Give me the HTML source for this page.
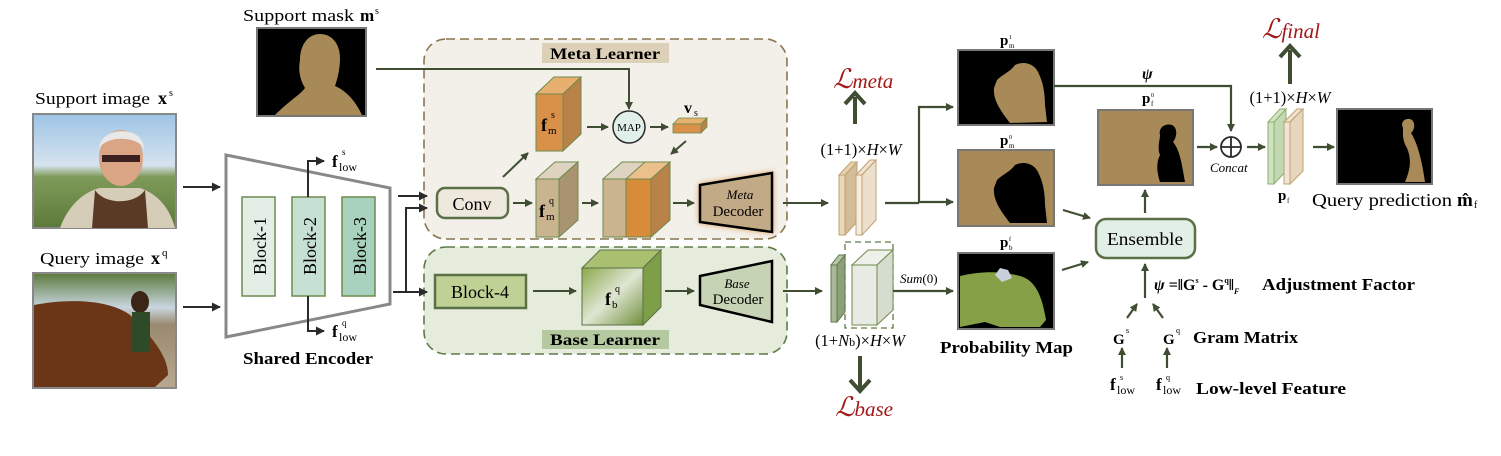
<!DOCTYPE html>
<html><head><meta charset="utf-8"><style>
html,body{margin:0;padding:0;background:#fff;}
svg{display:block;}
text{font-family:"Liberation Serif",serif;}
.b{font-weight:bold;}
.i{font-style:italic;}
</style></head><body>
<svg width="1501" height="456" viewBox="0 0 1501 456" xmlns="http://www.w3.org/2000/svg">
<defs>
<marker id="a" markerWidth="8" markerHeight="8" refX="7" refY="4" orient="auto" markerUnits="userSpaceOnUse"><path d="M0,0 L8,4 L0,8 z" fill="#3f4e33"/></marker>
<marker id="k" markerWidth="9" markerHeight="9" refX="8" refY="4.5" orient="auto" markerUnits="userSpaceOnUse"><path d="M0,0 L9,4.5 L0,9 z" fill="#2a2a2a"/></marker>
<linearGradient id="gb" x1="0" y1="0" x2="1" y2="1"><stop offset="0" stop-color="#8aa84a"/><stop offset="0.5" stop-color="#dfe6d3"/><stop offset="1" stop-color="#6f8f3a"/></linearGradient>
<linearGradient id="sky" x1="0" y1="0" x2="0" y2="1"><stop offset="0" stop-color="#9ec4e6"/><stop offset="0.45" stop-color="#d6e3ee"/><stop offset="0.55" stop-color="#7f9b5a"/><stop offset="1" stop-color="#5e7a3a"/></linearGradient>
<linearGradient id="qsky" x1="0" y1="0" x2="0" y2="1"><stop offset="0" stop-color="#5b7a3a"/><stop offset="0.3" stop-color="#c9d6e0"/><stop offset="0.45" stop-color="#9a8a70"/><stop offset="1" stop-color="#b8a890"/></linearGradient>
</defs>

<text x="243" y="21" font-size="17" textLength="111" lengthAdjust="spacingAndGlyphs">Support mask</text><text x="360" y="21" font-size="17" class="b">m</text><text x="375" y="14" font-size="10">s</text>
<rect x="257" y="28" width="109" height="88" fill="#000" stroke="#777" stroke-width="2"/>
<path d="M275,115 C290,100 300,95 305,88 C300,80 298,70 300,60 C300,45 308,34 320,34 C332,34 340,44 340,58 C340,70 337,80 335,86 C345,90 355,100 362,115 Z" fill="#a88a58"/>

<text x="35" y="104" font-size="17" textLength="115" lengthAdjust="spacingAndGlyphs">Support image</text><text x="158" y="104" font-size="18" class="b">x</text><text x="169" y="96" font-size="10">s</text>
<rect x="33" y="114" width="143" height="114" fill="url(#sky)" stroke="#888" stroke-width="2"/>
<path d="M60,228 C70,200 90,190 100,188 L140,188 C160,195 170,210 175,228 Z" fill="#d5cdb8"/>
<ellipse cx="121" cy="158" rx="22" ry="28" fill="#d9a584"/>
<path d="M99,150 C98,126 145,124 144,150 C140,135 103,135 99,150 Z" fill="#e8e8e8"/>
<rect x="102" y="155" width="38" height="7" fill="#3a2020"/>
<path d="M95,190 C105,205 135,205 145,190 L148,228 L92,228 Z" fill="#5a3a25"/>

<text x="40" y="264" font-size="17" textLength="104" lengthAdjust="spacingAndGlyphs">Query image</text><text x="151" y="264" font-size="18" class="b">x</text><text x="162" y="256" font-size="11">q</text>
<rect x="33" y="273" width="143" height="115" fill="url(#qsky)" stroke="#888" stroke-width="2"/>
<path d="M34,305 C70,298 110,300 130,315 C150,335 168,355 168,375 L155,387 L34,387 Z" fill="#6b3518"/>
<ellipse cx="140" cy="302" rx="9" ry="11" fill="#3a2516"/>
<rect x="132" y="312" width="18" height="40" fill="#2e4a28"/>

<line x1="183" y1="187" x2="220" y2="187" stroke="#2a2a2a" stroke-width="2" marker-end="url(#k)"/>
<line x1="183" y1="307" x2="220" y2="307" stroke="#2a2a2a" stroke-width="2" marker-end="url(#k)"/>

<polygon points="226,155 390,188 390,304 226,337" fill="#fff" stroke="#888" stroke-width="3"/>
<rect x="242" y="197" width="33" height="99" fill="#e3efe6" stroke="#6e8a4e" stroke-width="1.5"/>
<rect x="292" y="197" width="33" height="99" fill="#c6e0d3" stroke="#6e8a4e" stroke-width="1.5"/>
<rect x="342" y="197" width="33" height="99" fill="#a8d2bd" stroke="#6e8a4e" stroke-width="1.5"/>
<text transform="translate(266,246) rotate(-90)" text-anchor="middle" font-size="18" textLength="58" lengthAdjust="spacingAndGlyphs">Block-1</text>
<text transform="translate(316,246) rotate(-90)" text-anchor="middle" font-size="18" textLength="58" lengthAdjust="spacingAndGlyphs">Block-2</text>
<text transform="translate(366,246) rotate(-90)" text-anchor="middle" font-size="18" textLength="58" lengthAdjust="spacingAndGlyphs">Block-3</text>
<polyline points="308,197 308,161 324,161" fill="none" stroke="#2a2a2a" stroke-width="2" marker-end="url(#k)"/>
<polyline points="308,296 308,331 324,331" fill="none" stroke="#2a2a2a" stroke-width="2" marker-end="url(#k)"/>
<text x="332" y="167" font-size="17" class="b">f</text><text x="339" y="171" font-size="12">low</text><text x="342" y="155" font-size="9">s</text>
<text x="332" y="337" font-size="17" class="b">f</text><text x="339" y="341" font-size="12">low</text><text x="342" y="326" font-size="9">q</text>
<text x="243" y="364" font-size="17" class="b" textLength="130" lengthAdjust="spacingAndGlyphs">Shared Encoder</text>

<rect x="424" y="39" width="363" height="200" rx="22" fill="#f3f0ea" stroke="#8a7650" stroke-width="1.6" stroke-dasharray="9,5"/>
<rect x="424" y="247" width="363" height="107" rx="22" fill="#e6ecdb" stroke="#5f7a48" stroke-width="1.6" stroke-dasharray="9,5"/>
<rect x="542" y="43" width="127" height="20" fill="#ddd0b8"/>
<text x="605" y="59" text-anchor="middle" font-size="16" class="b" textLength="110" lengthAdjust="spacingAndGlyphs">Meta Learner</text>
<rect x="542" y="330" width="127" height="19" fill="#b5c9a0"/>
<text x="605" y="345" text-anchor="middle" font-size="16" class="b" textLength="110" lengthAdjust="spacingAndGlyphs">Base Learner</text>

<line x1="398" y1="196" x2="427" y2="196" stroke="#2a2a2a" stroke-width="2" marker-end="url(#k)"/>
<line x1="393" y1="292" x2="427" y2="292" stroke="#2a2a2a" stroke-width="2" marker-end="url(#k)"/>
<polyline points="406,292 406,208 427,208" fill="none" stroke="#2a2a2a" stroke-width="2" marker-end="url(#k)"/>

<polyline points="376,69 629,69 629,109" fill="none" stroke="#3f4e33" stroke-width="2" marker-end="url(#a)"/>

<rect x="437" y="188" width="71" height="30" rx="8" fill="#eee8dd" stroke="#5c7048" stroke-width="2.5"/>
<text x="472" y="210" text-anchor="middle" font-size="18">Conv</text>
<line x1="503" y1="177" x2="528" y2="153" stroke="#3f4e33" stroke-width="2" marker-end="url(#a)"/>
<line x1="513" y1="203" x2="532" y2="203" stroke="#3f4e33" stroke-width="2" marker-end="url(#a)"/>

<polygon points="536,94 554,77 581,77 563,94" fill="#e8b06e" stroke="#6e8a4e" stroke-width="1"/>
<polygon points="563,94 581,77 581,134 563,151" fill="#b98248" stroke="#6e8a4e" stroke-width="1"/>
<rect x="536" y="94" width="27" height="57" fill="#d9914a" stroke="#6e8a4e" stroke-width="1"/>
<text x="541" y="131" font-size="18" class="b">f</text><text x="548" y="134" font-size="11">m</text><text x="551" y="118" font-size="10">s</text>
<line x1="587" y1="127" x2="608" y2="127" stroke="#3f4e33" stroke-width="2" marker-end="url(#a)"/>
<circle cx="629" cy="127" r="16" fill="#e0efe9" stroke="#2a2a2a" stroke-width="1.5"/>
<text x="629" y="131" text-anchor="middle" font-size="11">MAP</text>
<line x1="650" y1="127" x2="668" y2="127" stroke="#3f4e33" stroke-width="2" marker-end="url(#a)"/>
<polygon points="673,124 679,118 707,118 701,124" fill="#e8b06e" stroke="#6e8a4e" stroke-width="0.8"/>
<polygon points="701,124 707,118 707,127 701,133" fill="#b98248" stroke="#6e8a4e" stroke-width="0.8"/>
<rect x="673" y="124" width="28" height="9" fill="#d9914a" stroke="#6e8a4e" stroke-width="0.8"/>
<text x="684" y="113" font-size="16" class="b">v</text><text x="694" y="116" font-size="10">s</text>
<line x1="686" y1="141" x2="671" y2="154" stroke="#3f4e33" stroke-width="2" marker-end="url(#a)"/>

<polygon points="536,179 555,162 578,162 559,179" fill="#ddd3c0" stroke="#6e8a4e" stroke-width="1"/>
<polygon points="559,179 578,162 578,220 559,237" fill="#a89470" stroke="#6e8a4e" stroke-width="1"/>
<rect x="536" y="179" width="23" height="58" fill="#c9b48f" stroke="#6e8a4e" stroke-width="1"/>
<text x="539" y="217" font-size="18" class="b">f</text><text x="546" y="220" font-size="11">m</text><text x="549" y="204" font-size="10">q</text>
<line x1="582" y1="203" x2="598" y2="203" stroke="#3f4e33" stroke-width="2" marker-end="url(#a)"/>

<polygon points="603,179 622,162 650,162 631,179" fill="#ddd3c0" stroke="#6e8a4e" stroke-width="1"/>
<rect x="603" y="179" width="23" height="58" fill="#c9b48f" stroke="#6e8a4e" stroke-width="1"/>
<polygon points="626,179 645,162 670,162 651,179" fill="#ecc08a" stroke="#6e8a4e" stroke-width="1"/>
<polygon points="651,179 670,162 670,220 651,237" fill="#b98248" stroke="#6e8a4e" stroke-width="1"/>
<rect x="626" y="179" width="25" height="58" fill="#d88c3a" stroke="#6e8a4e" stroke-width="1"/>
<line x1="673" y1="203" x2="694" y2="203" stroke="#3f4e33" stroke-width="2" marker-end="url(#a)"/>

<polygon points="700,185 772,173 772,232 700,222" fill="#c2aa86" stroke="#000" stroke-width="2.5" style="filter:drop-shadow(0 0 3px #e0a060)"/>
<text x="740" y="199" text-anchor="middle" font-size="13" class="i">Meta</text>
<text x="738" y="216" text-anchor="middle" font-size="15">Decoder</text>
<line x1="783" y1="203" x2="828" y2="203" stroke="#3f4e33" stroke-width="2" marker-end="url(#a)"/>

<rect x="435" y="275" width="91" height="33" fill="#bfd195" stroke="#5c7048" stroke-width="2.5"/>
<text x="480" y="298" text-anchor="middle" font-size="18">Block-4</text>
<line x1="533" y1="291" x2="576" y2="291" stroke="#3f4e33" stroke-width="2" marker-end="url(#a)"/>
<polygon points="582,268 600,250 661,250 643,268" fill="#a8c070" stroke="#5c7048" stroke-width="1"/>
<polygon points="643,268 661,250 661,307 643,325" fill="#7f9e48" stroke="#5c7048" stroke-width="1"/>
<rect x="582" y="268" width="61" height="57" fill="url(#gb)" stroke="#5c7048" stroke-width="1"/>
<text x="605" y="305" font-size="18" class="b">f</text><text x="612" y="308" font-size="11">b</text><text x="615" y="292" font-size="10">q</text>
<line x1="665" y1="291" x2="694" y2="291" stroke="#3f4e33" stroke-width="2" marker-end="url(#a)"/>
<polygon points="700,276 772,261 772,322 700,305" fill="#c7d3b5" stroke="#000" stroke-width="2.5"/>
<text x="737" y="288" text-anchor="middle" font-size="13" class="i">Base</text>
<text x="738" y="304" text-anchor="middle" font-size="15">Decoder</text>
<line x1="783" y1="291" x2="822" y2="291" stroke="#3f4e33" stroke-width="2" marker-end="url(#a)"/>

<polygon points="839,175 845,175 857,162 851,162" fill="#e6d2b0" stroke="#c0a070" stroke-width="1"/>
<polygon points="845,175 857,162 857,222 845,235" fill="#d3bd98" stroke="#c0a070" stroke-width="1"/>
<rect x="839" y="175" width="6" height="60" fill="#e9d8bc" stroke="#c0a070" stroke-width="1"/>
<polygon points="856,175 862,175 876,160 870,160" fill="#efe3cf" stroke="#c0a070" stroke-width="1"/>
<polygon points="862,175 876,160 876,220 862,235" fill="#ece0cd" stroke="#c0a070" stroke-width="1"/>
<rect x="856" y="175" width="6" height="60" fill="#f5ede0" stroke="#c0a070" stroke-width="1"/>
<text x="861" y="155" text-anchor="middle" font-size="16.5">(1+1)×<tspan class="i">H</tspan>×<tspan class="i">W</tspan></text>
<line x1="855" y1="124" x2="855" y2="97" stroke="#3f4e33" stroke-width="4"/>
<path d="M845,104 L855,93 L865,104" fill="none" stroke="#3f4e33" stroke-width="4"/>
<text x="833" y="88" font-size="27" fill="#a01818" class="i">ℒ<tspan font-size="21">meta</tspan></text>

<rect x="845" y="242" width="48" height="86" fill="none" stroke="#5f7a48" stroke-width="1.3" stroke-dasharray="6,4"/>
<polygon points="831,265 837,265 845,255 839,255" fill="#b5c4a5" stroke="#5f7a48" stroke-width="1"/>
<polygon points="837,265 845,255 845,312 837,322" fill="#8ea07a" stroke="#5f7a48" stroke-width="1"/>
<rect x="831" y="265" width="6" height="57" fill="#a8b898" stroke="#5f7a48" stroke-width="1"/>
<polygon points="852,265 877,265 893,250 868,250" fill="#eef0ea" stroke="#6e8a4e" stroke-width="1"/>
<polygon points="877,265 893,250 893,310 877,325" fill="#d6ddd0" stroke="#6e8a4e" stroke-width="1"/>
<rect x="852" y="265" width="25" height="60" fill="#e8ebe4" stroke="#6e8a4e" stroke-width="1"/>
<text x="860" y="346" text-anchor="middle" font-size="16.5">(1+<tspan class="i">N</tspan><tspan font-size="12">b</tspan>)×<tspan class="i">H</tspan>×<tspan class="i">W</tspan></text>
<line x1="860" y1="356" x2="860" y2="388" stroke="#3f4e33" stroke-width="4"/>
<path d="M850,380 L860,391 L870,380" fill="none" stroke="#3f4e33" stroke-width="4"/>
<text x="835" y="416" font-size="27" fill="#a01818" class="i">ℒ<tspan font-size="21">base</tspan></text>

<line x1="885" y1="203" x2="919" y2="203" stroke="#3f4e33" stroke-width="2.2"/>
<polyline points="919,203 919,107 953,107" fill="none" stroke="#3f4e33" stroke-width="2.2" marker-end="url(#a)"/>
<line x1="919" y1="202" x2="953" y2="202" stroke="#3f4e33" stroke-width="2.2" marker-end="url(#a)"/>
<line x1="893" y1="291" x2="953" y2="291" stroke="#3f4e33" stroke-width="2.2" marker-end="url(#a)"/>
<text x="900" y="283" font-size="13" class="i">Sum<tspan font-style="normal">(0)</tspan></text>

<text x="1000" y="45" font-size="15" class="b">p</text><text x="1009" y="48" font-size="7">m</text><text x="1009" y="39" font-size="6">1</text>
<rect x="958" y="50" width="96" height="75" fill="#000" stroke="#777" stroke-width="2"/>
<path d="M997,80 C1003,74 1010,72 1015,65 C1025,60 1035,65 1038,72 C1042,80 1045,90 1045,105 L1047,122 L1010,123 C1000,110 993,100 994,88 Z" fill="#a88a58"/>
<text x="1000" y="145" font-size="15" class="b">p</text><text x="1009" y="148" font-size="7">m</text><text x="1009" y="139" font-size="6">0</text>
<rect x="958" y="150" width="96" height="76" fill="#a88a58" stroke="#777" stroke-width="2"/>
<path d="M997,180 C1003,174 1010,172 1015,165 C1025,160 1035,165 1038,172 C1042,180 1045,190 1045,205 L1047,223 L1010,223 C1000,210 993,200 994,188 Z" fill="#000"/>
<text x="1000" y="247" font-size="15" class="b">p</text><text x="1009" y="250" font-size="7">b</text><text x="1009" y="241" font-size="6">f</text>
<rect x="958" y="253" width="96" height="76" fill="#000" stroke="#777" stroke-width="2"/>
<path d="M960,276 C985,270 1005,272 1020,276 C1035,280 1042,295 1046,320 L1040,327 L1000,327 L985,322 L960,327 Z" fill="#86a048"/>
<path d="M995,275 L1000,268 L1008,270 L1012,278 L1002,282 Z" fill="#c8d0dc"/>
<text x="940" y="353" font-size="17" class="b" textLength="133" lengthAdjust="spacingAndGlyphs">Probability Map</text>

<polyline points="1054,86 1231,86 1231,131" fill="none" stroke="#3f4e33" stroke-width="2.2" marker-end="url(#a)"/>
<text x="1142" y="79" font-size="16" class="b i">ψ</text>
<text x="1142" y="103" font-size="15" class="b">p</text><text x="1151" y="106" font-size="7">f</text><text x="1151" y="97" font-size="6">0</text>
<rect x="1098" y="110" width="95" height="75" fill="#a88a58" stroke="#777" stroke-width="2"/>
<path d="M1160,135 C1158,128 1165,123 1172,125 C1178,128 1177,137 1173,142 C1180,150 1182,165 1185,182 L1160,182 C1158,175 1155,165 1160,155 C1157,148 1160,140 1160,135 Z" fill="#000"/>
<line x1="1197" y1="147" x2="1217" y2="147" stroke="#3f4e33" stroke-width="2.2" marker-end="url(#a)"/>
<circle cx="1231" cy="147" r="10" fill="#fff" stroke="#2a2a2a" stroke-width="1.8"/>
<line x1="1221" y1="147" x2="1241" y2="147" stroke="#2a2a2a" stroke-width="1.8"/>
<line x1="1231" y1="137" x2="1231" y2="157" stroke="#2a2a2a" stroke-width="1.8"/>
<text x="1210" y="172" font-size="13" class="i">Concat</text>
<line x1="1247" y1="147" x2="1265" y2="147" stroke="#3f4e33" stroke-width="2.2" marker-end="url(#a)"/>

<polygon points="1268,122 1274,122 1286,109 1280,109" fill="#d6e4c6" stroke="#8ab070" stroke-width="1"/>
<polygon points="1274,122 1286,109 1286,171 1274,184" fill="#c2d8b0" stroke="#8ab070" stroke-width="1"/>
<rect x="1268" y="122" width="6" height="62" fill="#d0e2c0" stroke="#8ab070" stroke-width="1"/>
<polygon points="1284,122 1290,122 1303,109 1297,109" fill="#efe3cf" stroke="#c0a070" stroke-width="1"/>
<polygon points="1290,122 1303,109 1303,171 1290,184" fill="#e6d6be" stroke="#c0a070" stroke-width="1"/>
<rect x="1284" y="122" width="6" height="62" fill="#f0e6d6" stroke="#c0a070" stroke-width="1"/>
<text x="1278" y="200" font-size="15" class="b">p</text><text x="1287" y="203" font-size="7">f</text>
<text x="1290" y="103" text-anchor="middle" font-size="16.5">(1+1)×<tspan class="i">H</tspan>×<tspan class="i">W</tspan></text>
<line x1="1290" y1="84" x2="1290" y2="50" stroke="#3f4e33" stroke-width="4"/>
<path d="M1280,57 L1290,46 L1300,57" fill="none" stroke="#3f4e33" stroke-width="4"/>
<text x="1262" y="38" font-size="27" fill="#a01818" class="i">ℒ<tspan font-size="21">final</tspan></text>
<line x1="1313" y1="147" x2="1334" y2="147" stroke="#3f4e33" stroke-width="2.2" marker-end="url(#a)"/>
<rect x="1337" y="109" width="95" height="75" fill="#000" stroke="#777" stroke-width="2"/>
<path d="M1403,128 C1400,122 1405,118 1410,119 C1416,121 1415,130 1411,133 C1417,142 1422,160 1425,182 L1405,182 C1410,170 1412,160 1407,148 C1402,140 1403,133 1403,128 Z" fill="#a88a58"/>
<text x="1312" y="206" font-size="18" textLength="140" lengthAdjust="spacingAndGlyphs">Query prediction</text><text x="1457" y="206" font-size="19" class="b">m̂</text><text x="1474" y="208" font-size="10">f</text>

<line x1="1063" y1="210" x2="1090" y2="218" stroke="#3f4e33" stroke-width="2.2" marker-end="url(#a)"/>
<line x1="1062" y1="270" x2="1088" y2="262" stroke="#3f4e33" stroke-width="2.2" marker-end="url(#a)"/>
<rect x="1096" y="219" width="99" height="39" rx="10" fill="#e1efe6" stroke="#5c7048" stroke-width="2.5"/>
<text x="1145" y="245" text-anchor="middle" font-size="18" textLength="76" lengthAdjust="spacingAndGlyphs">Ensemble</text>
<line x1="1145" y1="213" x2="1145" y2="190" stroke="#3f4e33" stroke-width="2.2" marker-end="url(#a)"/>
<line x1="1145" y1="298" x2="1145" y2="264" stroke="#3f4e33" stroke-width="2.2" marker-end="url(#a)"/>
<text x="1154" y="290" font-size="16" class="b"><tspan class="i">ψ</tspan> =‖G<tspan font-size="8" dy="-7">s</tspan><tspan dy="7"> - G</tspan><tspan font-size="8" dy="-7">q</tspan><tspan dy="7">‖</tspan><tspan font-size="8" class="i" dy="4">F</tspan></text>
<text x="1262" y="290" font-size="17" class="b" textLength="153" lengthAdjust="spacingAndGlyphs">Adjustment Factor</text>
<line x1="1127" y1="318" x2="1137" y2="304" stroke="#3f4e33" stroke-width="2.2" marker-end="url(#a)"/>
<line x1="1163" y1="318" x2="1153" y2="304" stroke="#3f4e33" stroke-width="2.2" marker-end="url(#a)"/>
<text x="1113" y="344" font-size="15" class="b">G</text><text x="1126" y="333" font-size="8">s</text>
<text x="1163" y="344" font-size="15" class="b">G</text><text x="1176" y="333" font-size="8">q</text>
<text x="1193" y="343" font-size="17" class="b" textLength="105" lengthAdjust="spacingAndGlyphs">Gram Matrix</text>
<line x1="1122" y1="368" x2="1122" y2="348" stroke="#3f4e33" stroke-width="2.2" marker-end="url(#a)"/>
<line x1="1167" y1="368" x2="1167" y2="348" stroke="#3f4e33" stroke-width="2.2" marker-end="url(#a)"/>
<text x="1110" y="390" font-size="17" class="b">f</text><text x="1117" y="394" font-size="12">low</text><text x="1120" y="380" font-size="8">s</text>
<text x="1156" y="390" font-size="17" class="b">f</text><text x="1163" y="394" font-size="12">low</text><text x="1166" y="380" font-size="8">q</text>
<text x="1196" y="394" font-size="17" class="b" textLength="150" lengthAdjust="spacingAndGlyphs">Low-level Feature</text>
</svg>
</body></html>
